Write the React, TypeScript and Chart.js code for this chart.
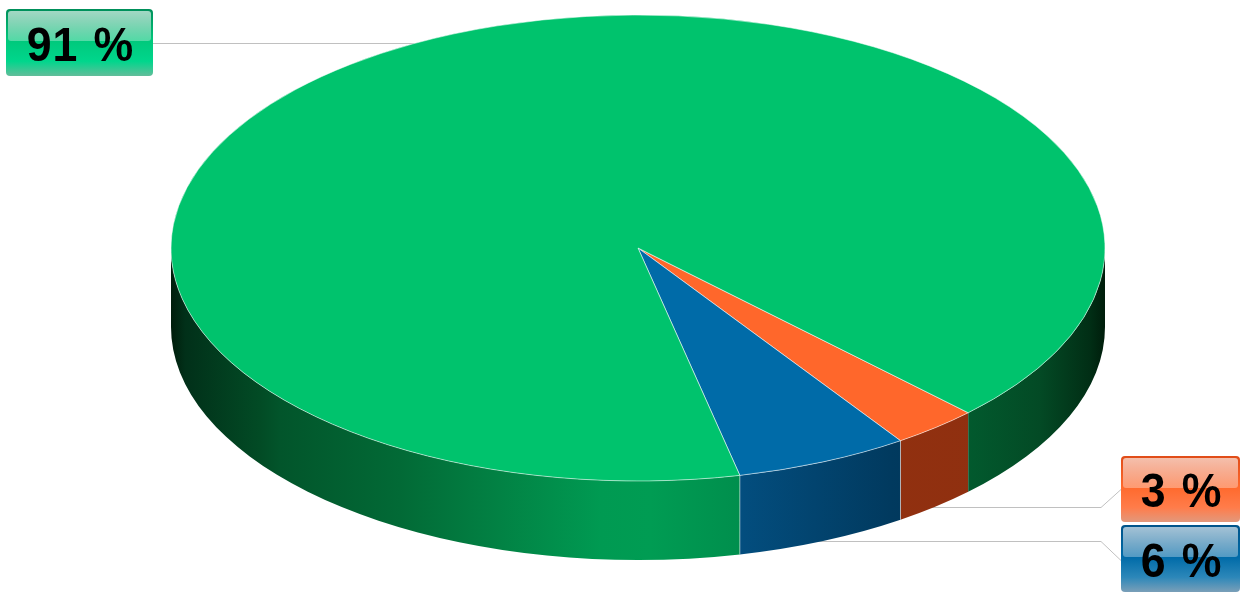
import React, { useEffect, useRef } from "react";
import { Chart, registerables } from "chart.js";

Chart.register(...registerables);

const categories = ["Orange", "Blue", "Green"];
const shares = [3, 6, 91];
const labelTexts = ["3 %", "6 %", "91 %"];
const topColors = ["#FF672B", "#006BA8", "#00C36D"];

const RADIUS_X = 467;
const RADIUS_Y = 233;
const DEPTH = 79;

const wallStops: [number, string][][] = [
  [[0, "#9a3412"], [1, "#8e2f0f"]],
  [[0, "#04598f"], [0.607, "#034e7f"], [0.77, "#013a5f"], [1, "#012a45"]],
  [
    [0, "#001d0b"], [0.015, "#013019"], [0.095, "#024b25"], [0.117, "#02552b"],
    [0.245, "#026a36"], [0.352, "#028244"], [0.46, "#009a52"], [0.513, "#009c53"],
    [0.607, "#008f4d"], [0.852, "#025a2e"], [0.93, "#034a25"], [0.984, "#012e15"],
    [1, "#001d0b"],
  ],
];

type Box = {
  x: number; y: number; w: number; h: number; base: number;
  fill: [number, string][]; line: [number, number][];
};
const boxes: Box[] = [
  {
    x: 1121, y: 456, w: 119, h: 66, base: 507,
    fill: [[0, "#e04c18"], [0.48, "#ff6a2e"], [0.78, "#ff7c4a"], [1, "#e2987c"]],
    line: [[1121, 489], [1101, 507], [930, 507]],
  },
  {
    x: 1121, y: 525, w: 119, h: 67, base: 577,
    fill: [[0, "#00548a"], [0.48, "#006ba8"], [0.78, "#2c87b9"], [1, "#7a9fb8"]],
    line: [[1121, 560], [1101, 541], [780, 541]],
  },
  {
    x: 6, y: 9, w: 147, h: 67, base: 61,
    fill: [[0, "#008f5a"], [0.48, "#00c97c"], [0.78, "#00d68c"], [1, "#62bd9a"]],
    line: [[153, 43], [420, 43]],
  },
];

const pie3d = {
  id: "pie3d",
  beforeDatasetDraw(chart: any) {
    const { ctx } = chart;
    const arcs = chart.getDatasetMeta(0).data;
    const { x: cx, y: cy } = arcs[0];

    ctx.save();
    ctx.strokeStyle = "#c0c0c0";
    ctx.lineWidth = 1;
    boxes.forEach((b) => {
      ctx.beginPath();
      b.line.forEach(([px, py], i) =>
        i ? ctx.lineTo(px, py + 0.5) : ctx.moveTo(px, py + 0.5)
      );
      ctx.stroke();
    });

    arcs.forEach((arc: any, i: number) => {
      const grad = ctx.createLinearGradient(cx - RADIUS_X, 0, cx + RADIUS_X, 0);
      wallStops[i].forEach(([o, c]) => grad.addColorStop(o, c));
      ctx.fillStyle = grad;
      for (let k = 0; k < 2; k++) {
        const lo = Math.max(arc.startAngle, 2 * Math.PI * k);
        const hi = Math.min(arc.endAngle, Math.PI + 2 * Math.PI * k);
        if (hi <= lo) continue;
        ctx.beginPath();
        ctx.ellipse(cx, cy, RADIUS_X, RADIUS_Y, 0, lo, hi);
        ctx.ellipse(cx, cy + DEPTH, RADIUS_X, RADIUS_Y, 0, hi, lo, true);
        ctx.closePath();
        ctx.fill();
      }
    });

    ctx.strokeStyle = "rgba(255,255,255,0.5)";
    arcs.slice(0, 2).forEach((arc: any) => {
      const sx = cx + RADIUS_X * Math.cos(arc.endAngle);
      const sy = cy + RADIUS_Y * Math.sin(arc.endAngle);
      ctx.beginPath();
      ctx.moveTo(sx, sy);
      ctx.lineTo(sx, sy + DEPTH);
      ctx.stroke();
    });
    ctx.restore();

    ctx.save();
    ctx.translate(cx, cy);
    ctx.scale(1, RADIUS_Y / RADIUS_X);
    ctx.translate(-cx, -cy);
  },
  afterDatasetDraw(chart: any) {
    chart.ctx.restore();
  },
  afterDatasetsDraw(chart: any) {
    const { ctx } = chart;
    boxes.forEach((b, i) => {
      ctx.save();
      const fill = ctx.createLinearGradient(0, b.y, 0, b.y + b.h);
      b.fill.forEach(([o, c]) => fill.addColorStop(o, c));
      ctx.beginPath();
      ctx.roundRect(b.x, b.y, b.w, b.h, 4);
      ctx.fillStyle = fill;
      ctx.fill();

      const glossH = Math.round(b.h * 0.48) - 2;
      const gloss = ctx.createLinearGradient(0, b.y + 2, 0, b.y + 2 + glossH);
      gloss.addColorStop(0, "rgba(255,255,255,0.64)");
      gloss.addColorStop(1, "rgba(255,255,255,0.32)");
      ctx.beginPath();
      ctx.roundRect(b.x + 2, b.y + 2, b.w - 4, glossH, 3);
      ctx.fillStyle = gloss;
      ctx.fill();

      ctx.translate(b.x + b.w / 2 + 1, b.base);
      ctx.scale(0.93, 1);
      ctx.fillStyle = "#000000";
      ctx.font = 'bold 48px "Liberation Sans"';
      (ctx as any).wordSpacing = "2px";
      (ctx as any).letterSpacing = "1px";
      ctx.textAlign = "center";
      ctx.textBaseline = "alphabetic";
      ctx.fillText(labelTexts[i], 0, 0);
      ctx.restore();
    });
  },
};

export default function App() {
  const ref = useRef<HTMLCanvasElement>(null);
  useEffect(() => {
    const chart = new Chart(ref.current!, {
      type: "pie",
      data: {
        labels: categories,
        datasets: [
          {
            data: shares,
            backgroundColor: topColors,
            borderColor: "rgba(255,255,255,0.7)",
            borderWidth: 1,
            radius: RADIUS_X,
            clip: false,
          } as any,
        ],
      },
      options: {
        responsive: false,
        animation: false,
        events: [],
        rotation: 135,
        layout: { padding: { left: 30, bottom: 101 } },
        plugins: { legend: { display: false }, tooltip: { enabled: false } },
      },
      plugins: [pie3d],
    });
    return () => chart.destroy();
  }, []);
  return (
    <div style={{ position: "fixed", left: 0, top: 0, width: 1246, height: 597, background: "#fff" }}>
      <canvas ref={ref} width={1246} height={597} style={{ display: "block" }} />
    </div>
  );
}
